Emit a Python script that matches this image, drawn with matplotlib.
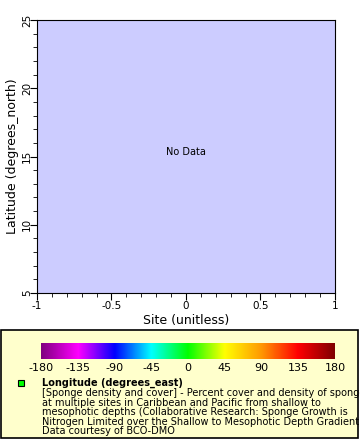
import numpy as np
import matplotlib
matplotlib.use('Agg')
import matplotlib.pyplot as plt
from matplotlib.colors import LinearSegmentedColormap
from matplotlib.patches import Rectangle
from matplotlib.ticker import MultipleLocator

x_range = [-1, 1]
y_range = [5, 25]
x_ticks = [-1, -0.5, 0, 0.5, 1]
x_tick_labels = ['-1', '-0.5', '0', '0.5', '1']
y_ticks = [5, 10, 15, 20, 25]
cbar_ticks = [-180, -135, -90, -45, 0, 45, 90, 135, 180]
cbar_tick_labels = ['-180', '-135', '-90', '-45', '0', '45', '90', '135', '180']
cbar_colors = ['#800080', '#ff00ff', '#0000ff', '#00ffff', '#00ff00',
               '#ffff00', '#ff9900', '#ff0000', '#800000']
legend_lines = [
    "[Sponge density and cover] - Percent cover and density of sponges",
    "at multiple sites in Caribbean and Pacific from shallow to",
    "mesophotic depths (Collaborative Research: Sponge Growth is",
    "Nitrogen Limited over the Shallow to Mesophotic Depth Gradient)",
    "Data courtesy of BCO-DMO",
]

W, H = 360, 440
fig = plt.figure(figsize=(3.6, 4.4), dpi=100)
fig.patch.set_facecolor('white')

# legend box (behind the colorbar axes)
fig.patches.append(Rectangle((1 / W, 2 / H), 357 / W, 108 / H, transform=fig.transFigure,
                             facecolor='#ffffcc', edgecolor='black', lw=1.2, zorder=-5))

ax = fig.add_axes([37 / W, 147 / H, 298 / W, 273 / H])
ax.set_facecolor('#ccccff')
ax.set_xlim(x_range)
ax.set_ylim(y_range)
ax.set_xticks(x_ticks)
ax.set_xticklabels(x_tick_labels)
ax.set_yticks(y_ticks)
ax.set_yticklabels([str(v) for v in y_ticks])
ax.xaxis.set_minor_locator(MultipleLocator(0.1))
ax.yaxis.set_minor_locator(MultipleLocator(1))
ax.tick_params(which='both', direction='out', labelsize=7.5, pad=1)
ax.tick_params(axis='y', which='both', pad=-1.5)
ax.tick_params(which='major', length=5)
ax.tick_params(which='minor', length=3)
ax.tick_params(axis='x', which='both', top=False)
ax.tick_params(axis='y', which='both', right=False)
for lab in ax.get_yticklabels():
    lab.set_rotation(90)
    lab.set_va('center')
ax.set_xlabel('Site (unitless)', fontsize=9, labelpad=2)
ax.set_ylabel('Latitude (degrees_north)', fontsize=9)
ax.yaxis.set_label_coords(-0.062, 0.5)
ax.text(0, 15.3, 'No Data', ha='center', va='center', fontsize=7)

# colorbar
cmap = LinearSegmentedColormap.from_list('rb', list(zip(np.linspace(0, 1, len(cbar_colors)), cbar_colors)))
cax = fig.add_axes([41 / W, 81 / H, 294 / W, 16 / H])
grad = np.linspace(cbar_ticks[0], cbar_ticks[-1], 256).reshape(1, -1)
cax.imshow(grad, aspect='auto', cmap=cmap, extent=[cbar_ticks[0], cbar_ticks[-1], 0, 1])
cax.set_xticks(cbar_ticks)
cax.set_xticklabels(cbar_tick_labels)
cax.set_yticks([])
cax.tick_params(length=0, labelsize=8, pad=3)
for s in cax.spines.values():
    s.set_visible(False)

# legend text
fig.patches.append(Rectangle((18 / W, (H - 386) / H), 6 / W, 6 / H, transform=fig.transFigure,
                             facecolor='#00ff00', edgecolor='black', lw=0.8))
fig.text(42 / W, (H - 383) / H, 'Longitude (degrees_east)', fontsize=7, fontweight='bold', va='center')
for i, line in enumerate(legend_lines):
    fig.text(42 / W, (H - 393 - i * 9.5) / H, line, fontsize=7, va='center')

fig.savefig('out.png', dpi=100)
plt.close(fig)
